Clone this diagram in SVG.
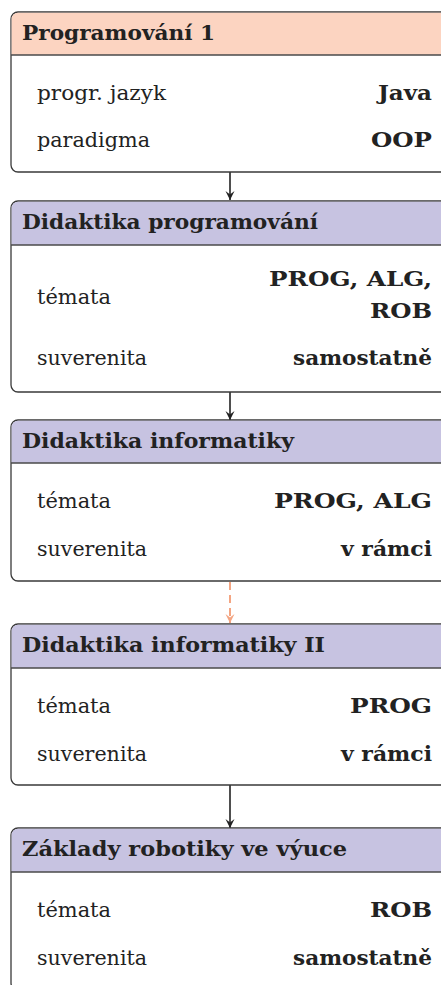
<svg xmlns="http://www.w3.org/2000/svg" width="441" height="985" viewBox="0 0 441 985">
  <style>
    .box { fill: #ffffff; stroke: #3a3a3a; stroke-width: 1.3; }
    .hdr-peach { fill: #fcd4c1; }
    .hdr-lav { fill: #c7c3e1; }
    .sep { stroke: #4a4a4a; stroke-width: 1.3; fill: none; }
    .title { font-family: "DejaVu Serif", "Liberation Serif", serif; font-weight: bold; font-size: 21px; fill: #222; }
    .lbl { font-family: "DejaVu Serif", "Liberation Serif", serif; font-size: 20.5px; fill: #222; }
    .val { font-family: "DejaVu Serif", "Liberation Serif", serif; font-weight: bold; font-size: 21px; fill: #222; text-anchor: end; }
    .edge { stroke: #222; stroke-width: 1.6; fill: none; }
    .edge-dash { stroke: #f4a582; stroke-width: 2; fill: none; stroke-dasharray: 8 5; }
  </style>
  <defs>
    <marker id="arr" viewBox="-10 -5 11 10" refX="0" refY="0" markerWidth="11" markerHeight="10" markerUnits="userSpaceOnUse" orient="auto">
      <path d="M0,0 L-9,-4.5 L-5.5,0 L-9,4.5 Z" fill="#222"/>
    </marker>
    <marker id="arr-o" viewBox="-10 -5 11 10" refX="0" refY="0" markerWidth="11" markerHeight="10" markerUnits="userSpaceOnUse" orient="auto">
      <path d="M0,0 L-9,-4.5 L-5.5,0 L-9,4.5 Z" fill="#f4a582"/>
    </marker>
  </defs>

  <!-- connectors -->
  <g id="connectors">
    <line class="edge" x1="230" y1="172" x2="230" y2="200" marker-end="url(#arr)"/>
    <line class="edge" x1="230" y1="392" x2="230" y2="420" marker-end="url(#arr)"/>
    <line class="edge-dash" x1="230" y1="582" x2="230" y2="623" marker-end="url(#arr-o)"/>
    <line class="edge" x1="230" y1="785" x2="230" y2="828" marker-end="url(#arr)"/>
  </g>

  <!-- Programování 1 -->
  <g id="node-prog1">
    <rect class="box" x="11" y="12" width="450" height="160" rx="7"/>
    <path class="hdr-peach" d="M11.65,55 V19 A6.35,6.35 0 0 1 18,12.65 H450 V55 Z"/>
    <line class="sep" x1="11" y1="55" x2="450" y2="55"/>
    <text class="title" x="22" y="40" textLength="193" lengthAdjust="spacingAndGlyphs">Programování 1</text>
    <text class="lbl" x="37" y="100" textLength="129" lengthAdjust="spacingAndGlyphs">progr. jazyk</text>
    <text class="val" x="432" y="100" textLength="54" lengthAdjust="spacingAndGlyphs">Java</text>
    <text class="lbl" x="37" y="147" textLength="113" lengthAdjust="spacingAndGlyphs">paradigma</text>
    <text class="val" x="432" y="147" textLength="61" lengthAdjust="spacingAndGlyphs">OOP</text>
  </g>

  <!-- Didaktika programování -->
  <g id="node-didprog">
    <rect class="box" x="11" y="201" width="450" height="191" rx="7"/>
    <path class="hdr-lav" d="M11.65,245 V208 A6.35,6.35 0 0 1 18,201.65 H450 V245 Z"/>
    <line class="sep" x1="11" y1="245" x2="450" y2="245"/>
    <text class="title" x="22" y="229" textLength="296" lengthAdjust="spacingAndGlyphs">Didaktika programování</text>
    <text class="lbl" x="37" y="304" textLength="74" lengthAdjust="spacingAndGlyphs">témata</text>
    <text class="val" x="432" y="286" textLength="163" lengthAdjust="spacingAndGlyphs">PROG, ALG,</text>
    <text class="val" x="432" y="318" textLength="62" lengthAdjust="spacingAndGlyphs">ROB</text>
    <text class="lbl" x="37" y="365" textLength="110" lengthAdjust="spacingAndGlyphs">suverenita</text>
    <text class="val" x="432" y="365" textLength="139" lengthAdjust="spacingAndGlyphs">samostatně</text>
  </g>

  <!-- Didaktika informatiky -->
  <g id="node-didinf">
    <rect class="box" x="11" y="420" width="450" height="161" rx="7"/>
    <path class="hdr-lav" d="M11.65,463 V427 A6.35,6.35 0 0 1 18,420.65 H450 V463 Z"/>
    <line class="sep" x1="11" y1="463" x2="450" y2="463"/>
    <text class="title" x="22" y="448" textLength="272" lengthAdjust="spacingAndGlyphs">Didaktika informatiky</text>
    <text class="lbl" x="37" y="508" textLength="74" lengthAdjust="spacingAndGlyphs">témata</text>
    <text class="val" x="432" y="508" textLength="158" lengthAdjust="spacingAndGlyphs">PROG, ALG</text>
    <text class="lbl" x="37" y="556" textLength="110" lengthAdjust="spacingAndGlyphs">suverenita</text>
    <text class="val" x="432" y="556" textLength="91" lengthAdjust="spacingAndGlyphs">v rámci</text>
  </g>

  <!-- Didaktika informatiky II -->
  <g id="node-didinf2">
    <rect class="box" x="11" y="624" width="450" height="161" rx="7"/>
    <path class="hdr-lav" d="M11.65,668 V631 A6.35,6.35 0 0 1 18,624.65 H450 V668 Z"/>
    <line class="sep" x1="11" y1="668" x2="450" y2="668"/>
    <text class="title" x="22" y="652" textLength="303" lengthAdjust="spacingAndGlyphs">Didaktika informatiky II</text>
    <text class="lbl" x="37" y="713" textLength="74" lengthAdjust="spacingAndGlyphs">témata</text>
    <text class="val" x="432" y="713" textLength="82" lengthAdjust="spacingAndGlyphs">PROG</text>
    <text class="lbl" x="37" y="761" textLength="110" lengthAdjust="spacingAndGlyphs">suverenita</text>
    <text class="val" x="432" y="761" textLength="91" lengthAdjust="spacingAndGlyphs">v rámci</text>
  </g>

  <!-- Základy robotiky ve výuce -->
  <g id="node-zakrob">
    <rect class="box" x="11" y="828" width="450" height="162" rx="7"/>
    <path class="hdr-lav" d="M11.65,872 V835 A6.35,6.35 0 0 1 18,828.65 H450 V872 Z"/>
    <line class="sep" x1="11" y1="872" x2="450" y2="872"/>
    <text class="title" x="22" y="856" textLength="325" lengthAdjust="spacingAndGlyphs">Základy robotiky ve výuce</text>
    <text class="lbl" x="37" y="917" textLength="74" lengthAdjust="spacingAndGlyphs">témata</text>
    <text class="val" x="432" y="917" textLength="62" lengthAdjust="spacingAndGlyphs">ROB</text>
    <text class="lbl" x="37" y="965" textLength="110" lengthAdjust="spacingAndGlyphs">suverenita</text>
    <text class="val" x="432" y="965" textLength="139" lengthAdjust="spacingAndGlyphs">samostatně</text>
  </g>
</svg>
